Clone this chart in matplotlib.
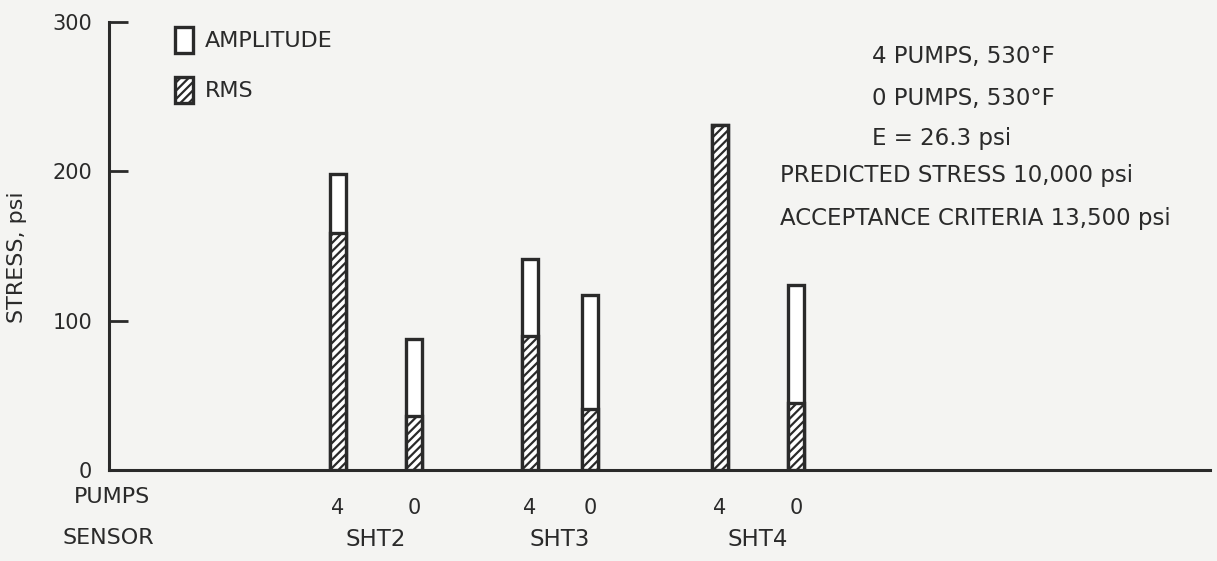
import matplotlib.pyplot as plt
from matplotlib.patches import Patch
from matplotlib.transforms import blended_transform_factory

plt.rcParams['font.family'] = ['DejaVu Sans']
plt.rcParams['hatch.linewidth'] = 1.6

# data
sensors = ['SHT2', 'SHT3', 'SHT4']
pumps = ['4', '0', '4', '0', '4', '0']
amplitude = [198, 88, 141, 117, 231, 124]
rms = [159, 36, 90, 41, 231, 45]
notes = ['4 PUMPS, 530°F', '0 PUMPS, 530°F', 'E = 26.3 psi',
         'PREDICTED STRESS 10,000 psi', 'ACCEPTANCE CRITERIA 13,500 psi']

ink = '#2a2a2a'
W, H = 1217, 561
fig = plt.figure(figsize=(W / 100, H / 100), dpi=100)
fig.patch.set_facecolor('#f4f4f2')
x0 = 109
ax = fig.add_axes([x0 / W, 1 - 470 / H, (1210 - x0) / W, (470 - 22) / H])
ax.set_facecolor('none')

# bar centres, in pixels right of the y axis
xpos = [338 - x0, 414 - x0, 530 - x0, 590 - x0, 720 - x0, 796 - x0]
bw = 16
ax.bar(xpos, amplitude, width=bw, color='white', edgecolor=ink, linewidth=2.4, zorder=2)
ax.bar(xpos, rms, width=bw, color='white', edgecolor=ink, hatch='////', linewidth=2.4, zorder=3)

ax.set_xlim(0, 1210 - x0)
ax.set_ylim(0, 300)
for s in ['top', 'right']:
    ax.spines[s].set_visible(False)
for s in ['left', 'bottom']:
    ax.spines[s].set_linewidth(2.2)
    ax.spines[s].set_color(ink)

ax.set_yticks([0, 100, 200, 300])
ax.tick_params(axis='y', direction='in', length=14, width=2, colors=ink,
               labelsize=15, pad=12)
ax.set_xticks(xpos)
ax.set_xticklabels(pumps)
ax.tick_params(axis='x', length=0, labelsize=15, pad=20, colors=ink)

fig.text(17 / W, 1 - 257 / H, 'STRESS, psi', rotation=90, fontsize=16, color=ink,
         ha='center', va='center')

tr = blended_transform_factory(ax.transData, fig.transFigure)
for i, s in enumerate(sensors):
    mid = (xpos[2 * i] + xpos[2 * i + 1]) / 2
    ax.text(mid, 1 - 539 / H, s, transform=tr, fontsize=16.5, color=ink,
            ha='center', va='center')

fig.text(112 / W, 1 - 497 / H, 'PUMPS', fontsize=16, color=ink, ha='center', va='center')
fig.text(108 / W, 1 - 538 / H, 'SENSOR', fontsize=16, color=ink, ha='center', va='center')

handles = [Patch(facecolor='white', edgecolor=ink, linewidth=2.4),
           Patch(facecolor='white', edgecolor=ink, hatch='////', linewidth=2.4)]
ax.legend(handles, ['AMPLITUDE', 'RMS'], loc='upper left',
          bbox_to_anchor=(175 / W, 1 - 27 / H), bbox_transform=fig.transFigure,
          frameon=False, borderpad=0, borderaxespad=0,
          handlelength=0.8, handleheight=1.4, labelspacing=1.1,
          handletextpad=0.55, fontsize=16, labelcolor=ink)

ys = [56, 98, 138, 175, 218]
xs = [872, 872, 872, 780, 780]
for t, x, y in zip(notes, xs, ys):
    fig.text(x / W, 1 - y / H, t, fontsize=16.5, color=ink, ha='left', va='center')

plt.savefig('out.png', dpi=100, facecolor=fig.get_facecolor())
